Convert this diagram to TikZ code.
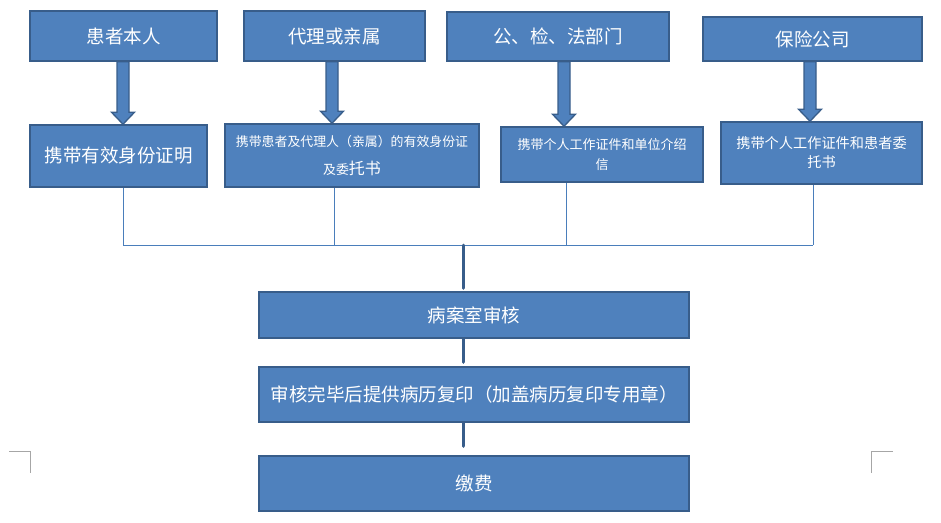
\documentclass[tikz,border=0pt]{standalone}
\usepackage{fontspec}
\setmainfont{Noto Sans CJK SC}
\usetikzlibrary{calc}
\definecolor{boxfill}{HTML}{4F81BD}
\definecolor{boxline}{HTML}{385D8A}
\definecolor{thinline}{HTML}{4A7EBB}
\definecolor{markgray}{HTML}{A6A6A6}
\newcommand\fatarrow[3]{%
  \draw[fatarr] let \p1=(#1.south), \p2=(#2.north), \p3=(#3) in
    (\x3-6pt,\y1) -- (\x3+6pt,\y1) -- (\x3+6pt,\y2+12pt) -- (\x3+11.5pt,\y2+12pt)
    -- (\x3,\y2) -- (\x3-11.5pt,\y2+12pt) -- (\x3-6pt,\y2+12pt) -- cycle;}
\begin{document}
\begin{tikzpicture}[x=1pt,y=-1pt,
  box/.style={draw=boxline,fill=boxfill,line width=1.5pt,text=white,inner sep=0pt,
    align=center,font=\fontsize{18.5}{22}\selectfont},
  fatarr/.style={draw=boxline,fill=boxfill,line width=1.3pt,line join=miter},
  thinconn/.style={draw=thinline,line width=0.9pt},
  thickconn/.style={draw=boxline,line width=3pt,line cap=round},
  cornermark/.style={draw=markgray,line width=0.9pt}]
\useasboundingbox (0,0) rectangle (941,522);
% top row
\node[box,minimum width=187,minimum height=50] (t1) at (123.5,36) {患者本人};
\node[box,minimum width=181,minimum height=50] (t2) at (334.5,36) {代理或亲属};
\node[box,minimum width=222,minimum height=49] (t3) at (558,36.5) {公、检、法部门};
\node[box,minimum width=219,minimum height=44] (t4) at (812.5,39) {保险公司};
% second row
\node[box,minimum width=177,minimum height=62] (s1) at (118.5,156) {携带有效身份证明};
\node[box,minimum width=254,minimum height=63,font=\fontsize{12.9}{28}\selectfont] (s2) at (352,155.5)
  {携带患者及代理人（亲属）的有效身份证\\及委{\fontsize{16}{28}\selectfont 托书}};
\node[box,minimum width=202,minimum height=55,font=\fontsize{13}{20}\selectfont] (s3) at (602,154.5)
  {携带个人工作证件和单位介绍\\信};
\node[box,minimum width=201,minimum height=62,font=\fontsize{14.2}{19}\selectfont] (s4) at (821.5,153)
  {携带个人工作证件和患者委\\托书};
% bottom column
\node[box,minimum width=430,minimum height=46] (p1) at (474,315) {病案室审核};
\node[box,minimum width=430,minimum height=55] (p2) at (474,394.5) {审核完毕后提供病历复印（加盖病历复印专用章）};
\node[box,minimum width=430,minimum height=55] (p3) at (474,483.5) {缴费};
% helper coordinates
\coordinate (a1) at (123,0);
\coordinate (a2) at (332,0);
\coordinate (a3) at (564,0);
\coordinate (a4) at (810,0);
\coordinate (v1) at (123,245);
\coordinate (v2) at (334,245);
\coordinate (v3) at (566,245);
\coordinate (v4) at (813,245);
\coordinate (j) at (463,245);
% fat arrows
\fatarrow{t1}{s1}{a1}
\fatarrow{t2}{s2}{a2}
\fatarrow{t3}{s3}{a3}
\fatarrow{t4}{s4}{a4}
% thin joining lines
\draw[thinconn] (s1.south -| v1) -- (v1);
\draw[thinconn] (s2.south -| v2) -- (v2);
\draw[thinconn] (s3.south -| v3) -- (v3);
\draw[thinconn] (s4.south -| v4) -- (v4);
\draw[thinconn] (v1) -- (v4);
% thick connectors
\draw[thickconn,shorten >=3pt] (j) -- (p1.north -| j);
\draw[thickconn,shorten >=4pt] (p1.south -| j) -- (p2.north -| j);
\draw[thickconn,shorten >=9pt] (p2.south -| j) -- (p3.north -| j);
% corner marks
\draw[cornermark] (9,451) -- (30,451) -- (30,473);
\draw[cornermark] (893,451) -- (871,451) -- (871,473);
\end{tikzpicture}
\end{document}
